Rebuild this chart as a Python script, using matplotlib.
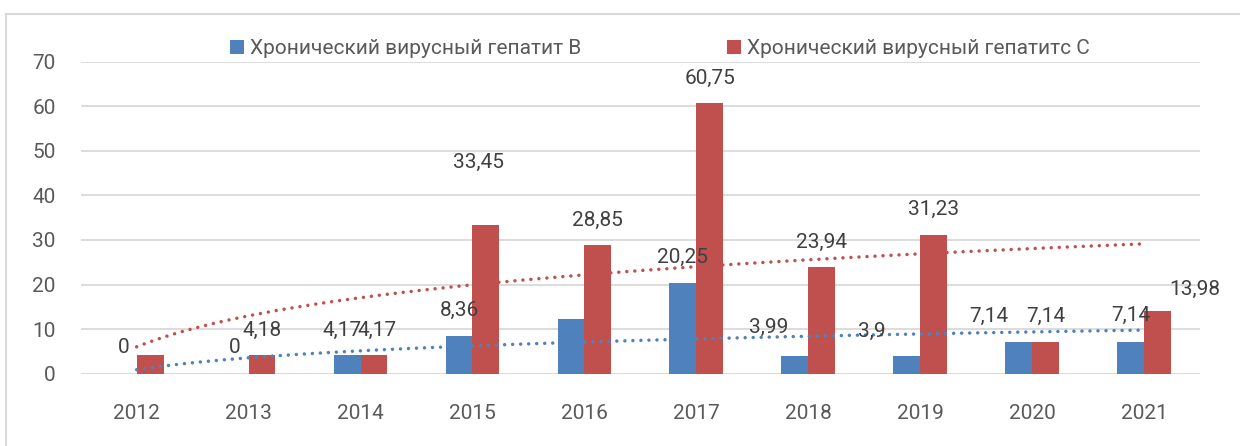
import numpy as np
import matplotlib
matplotlib.use("Agg")
import matplotlib.pyplot as plt
from matplotlib.patches import Patch
from matplotlib.lines import Line2D

plt.rcParams['font.family'] = ['Roboto', 'DejaVu Sans']

# ---- data ----
years = ["2012", "2013", "2014", "2015", "2016", "2017", "2018", "2019", "2020", "2021"]
hep_b = [0, 0, 4.17, 8.36, 12.3, 20.25, 3.99, 3.9, 7.14, 7.14]
hep_c = [4.18, 4.18, 4.17, 33.45, 28.85, 60.75, 23.94, 31.23, 7.14, 13.98]
hep_b_labels = ["0", "0", "4,17", "8,36", "", "20,25", "3,99", "3,9", "7,14", "7,14"]
hep_c_labels = ["", "4,18", "4,17", "33,45", "28,85", "60,75", "23,94", "31,23", "7,14", "13,98"]
series_names = ["Хронический вирусный гепатит В", "Хронический вирусный гепатитс С"]

# ---- style ----
BLUE = '#4F81BD'
RED = '#C0504D'
GRID = '#D9D9D9'
TICK = '#595959'
LABEL = '#404040'
FS = 15

W, H = 1240, 446
fig = plt.figure(figsize=(W / 100, H / 100), dpi=100)
ax = fig.add_axes([80.7 / W, 72.3 / H, (1200 - 80.7) / W, 312 / H])

x = np.arange(len(years))
bw = 0.24
ax.bar(x - bw / 2, hep_b, bw, color=BLUE, zorder=2)
ax.bar(x + bw / 2, hep_c, bw, color=RED, zorder=2)

# logarithmic trend lines (fitted from the data)
xs = np.linspace(0, len(years) - 1, 300)
for vals, col in ((hep_b, BLUE), (hep_c, RED)):
    coef = np.polyfit(np.log(x + 1), vals, 1)
    ys = np.polyval(coef, np.log(xs + 1))
    ax.plot(xs, ys, color=col, lw=2.5, linestyle=(0, (0.01, 2.3)),
            dash_capstyle='round', zorder=3)

# data labels (pixel offsets from bar top)
b_off = {2: (-5, 25), 6: (-26, 29), 7: (-35, 25), 8: (-30, 25)}
c_off = {2: (3.5, 25), 3: (-7, 62), 9: (37, 22)}
for i, (v, t) in enumerate(zip(hep_b, hep_b_labels)):
    if t:
        dx, dy = b_off.get(i, (0, 26))
        ax.annotate(t, xy=(i - bw / 2, v), xytext=(dx, dy), textcoords='offset pixels',
                    ha='center', va='center', fontsize=FS, color=LABEL, zorder=4)
for i, (v, t) in enumerate(zip(hep_c, hep_c_labels)):
    if t:
        dx, dy = c_off.get(i, (0, 25))
        ax.annotate(t, xy=(i + bw / 2, v), xytext=(dx, dy), textcoords='offset pixels',
                    ha='center', va='center', fontsize=FS, color=LABEL, zorder=4)

ax.set_xlim(-0.5, len(years) - 0.5)
ax.set_ylim(0, 70)
ax.set_yticks(np.arange(0, 71, 10))
ax.set_xticks(x)
ax.set_xticklabels(years)
ax.yaxis.grid(True, color=GRID, lw=1.3, zorder=0)
ax.set_axisbelow(True)
for s in ax.spines.values():
    s.set_visible(False)
ax.tick_params(axis='y', length=0, pad=18, labelsize=FS, labelcolor=TICK)
ax.tick_params(axis='x', length=0, pad=22, labelsize=FS, labelcolor=TICK)

handles = [Patch(facecolor=BLUE), Patch(facecolor=RED)]
fig.legend(handles, series_names, loc='center', bbox_to_anchor=(660 / W, 1 - 49 / H),
           ncol=2, frameon=False, fontsize=FS, labelcolor=TICK,
           handlelength=0.65, handleheight=0.65, handletextpad=0.3,
           columnspacing=7.0)

# outer chart border
fig.add_artist(Line2D([6 / W, 6 / W], [0, 1 - 14 / H], color=GRID, lw=1.5))
fig.add_artist(Line2D([6 / W, 1], [1 - 14 / H, 1 - 14 / H], color=GRID, lw=1.5))

fig.savefig("out.png", dpi=100)
